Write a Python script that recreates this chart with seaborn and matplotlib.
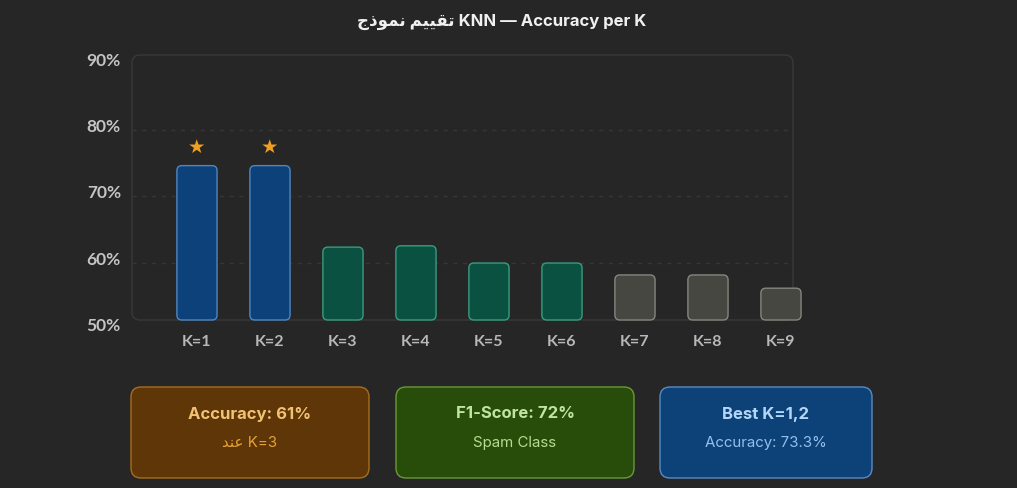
#KNN accuracy per K - dark card style chart
import numpy as np
import matplotlib
matplotlib.use('Agg')
import matplotlib.pyplot as plt
import seaborn as sns
from matplotlib.patches import FancyBboxPatch
from matplotlib.transforms import offset_copy, ScaledTranslation

#Data
k_labels = ['K=1', 'K=2', 'K=3', 'K=4', 'K=5', 'K=6', 'K=7', 'K=8', 'K=9']
accuracy = [73.3, 73.3, 61.0, 61.2, 58.6, 58.6, 56.8, 56.8, 54.8]
group = ['best', 'best', 'mid', 'mid', 'mid', 'mid', 'low', 'low', 'low']
y_ticks = [50, 60, 70, 80, 90]

#Arabic in presentation forms, visual (left to right) order
title_txt = '\uFE9D\uFEAB\uFEEE\uFEE4\uFEE7 \uFEE2\uFEF4\uFEF4\uFED8\uFE97 KNN \u2014 Accuracy per K'
at_txt = '\uFEAA\uFEE8\uFECB K=3'

cards = [
    ('Accuracy: 61%', at_txt),
    ('F1-Score: 72%', 'Spam Class'),
    ('Best K=1,2', 'Accuracy: 73.3%'),
]

BG = '#262626'
fill = {'best': '#0c4279', 'mid': '#0a5142', 'low': '#474742'}
edge = {'best': '#4f86c2', 'mid': '#3a9c7e', 'low': '#86867f'}
card_fill = ['#5e3608', '#284d0b', '#0c4278']
card_edge = ['#a86d1c', '#6a9a35', '#5a8ac4']
card_t1 = ['#f2c272', '#c2e4a0', '#b4d6f8']
card_t2 = ['#e8a238', '#b6dc92', '#94bfec']

sns.set_style('dark')
fam = ['Lato', 'DejaVu Sans']
plt.rcParams['font.family'] = fam

W, H = 1017, 488
fig = plt.figure(figsize=(W / 100, H / 100), dpi=100)
fig.patch.set_facecolor(BG)

#overlay in pixel coords for frame and cards
bg = fig.add_axes([0, 0, 1, 1], zorder=0)
bg.set_xlim(0, W)
bg.set_ylim(H, 0)
bg.axis('off')
bg.patch.set_alpha(0)

#plot area
L, R, T, B = 132, 793, 55, 320
ax = fig.add_axes([L / W, (H - B) / H, (R - L) / W, (B - T) / H], zorder=1)
ax.patch.set_alpha(0)

bg.add_patch(FancyBboxPatch((L, T), R - L, B - T, boxstyle='round,pad=0,rounding_size=8',
                            fc='none', ec='#393939', lw=1))

sns.barplot(x=k_labels, y=accuracy, hue=group, dodge=False, legend=False,
            palette=fill, width=0.55, ax=ax)

ax.set_ylim(50, 90)
ax.set_xlim(-0.89, -0.89 + (R - L) / 73.0)

#swap plain bars for rounded ones
xr = ax.get_xlim()[1] - ax.get_xlim()[0]
x_per_px = xr / (R - L)
y_per_px = 40.0 / (B - T)
bars = [p for p in ax.patches]
for p in bars:
    x0, w, h = p.get_x(), p.get_width(), p.get_height()
    i = int(round(x0 + w / 2))
    g = group[i]
    rb = FancyBboxPatch((x0, 50), w, h - 50,
                        boxstyle='round,pad=0,rounding_size=%f' % (5 * x_per_px),
                        mutation_aspect=y_per_px / x_per_px,
                        fc=fill[g], ec=edge[g], lw=1, clip_on=False, zorder=3)
    ax.add_patch(rb)
    p.remove()

#stars on best bars
best = max(accuracy)
for i, v in enumerate(accuracy):
    if v == best:
        ax.annotate('\u2605', xy=(i, v), xytext=(0, 18), textcoords='offset pixels',
                    ha='center', va='center', color='#f0a020', fontsize=14,
                    family=['DejaVu Sans'], annotation_clip=False)

#grid, drawn a touch below value positions as in the source
gtrans = offset_copy(ax.get_yaxis_transform(), fig=fig, y=-9, units='dots')
for v in [60, 70, 80]:
    ax.plot([0, 1], [v, v], transform=gtrans, ls=(0, (3, 4)), color='#363636', lw=1, zorder=1)

ax.set_yticks(y_ticks)
ax.set_yticklabels(['%d%%' % t for t in y_ticks])
ax.tick_params(axis='y', length=0, pad=8, labelsize=12.5, labelcolor='#c4c4c4')
ax.tick_params(axis='x', length=0, pad=11, labelsize=11.5, labelcolor='#b8b8b8')
for lab in ax.get_yticklabels() + ax.get_xticklabels():
    lab.set_fontweight('bold')
for lab in ax.get_yticklabels():
    lab.set_transform(lab.get_transform() + ScaledTranslation(0, -4.5 / 100, fig.dpi_scale_trans))
for s in ax.spines.values():
    s.set_visible(False)
ax.grid(False)
ax.set_xlabel('')
ax.set_ylabel('')

#title
fig.text(502 / W, 1 - 22 / H, title_txt, ha='center', va='center', fontsize=12,
         fontweight='bold', color='#f0f0f0', family=['Inter', 'DejaVu Sans'])

#summary cards
card_x = [(131, 369), (396, 634), (660, 872)]
for k, (x0, x1) in enumerate(card_x):
    bg.add_patch(FancyBboxPatch((x0, 387), x1 - x0, 91, boxstyle='round,pad=0,rounding_size=10',
                                fc=card_fill[k], ec=card_edge[k], lw=1))
    cx = (x0 + x1) / 2
    bg.text(cx, 414, cards[k][0], ha='center', va='center', fontsize=12, fontweight='bold',
            color=card_t1[k], family=['Inter', 'DejaVu Sans'])
    bg.text(cx, 443, cards[k][1], ha='center', va='center', fontsize=10.8,
            color=card_t2[k], family=['Inter', 'DejaVu Sans'])

fig.savefig('out.png', dpi=100, facecolor=BG)
